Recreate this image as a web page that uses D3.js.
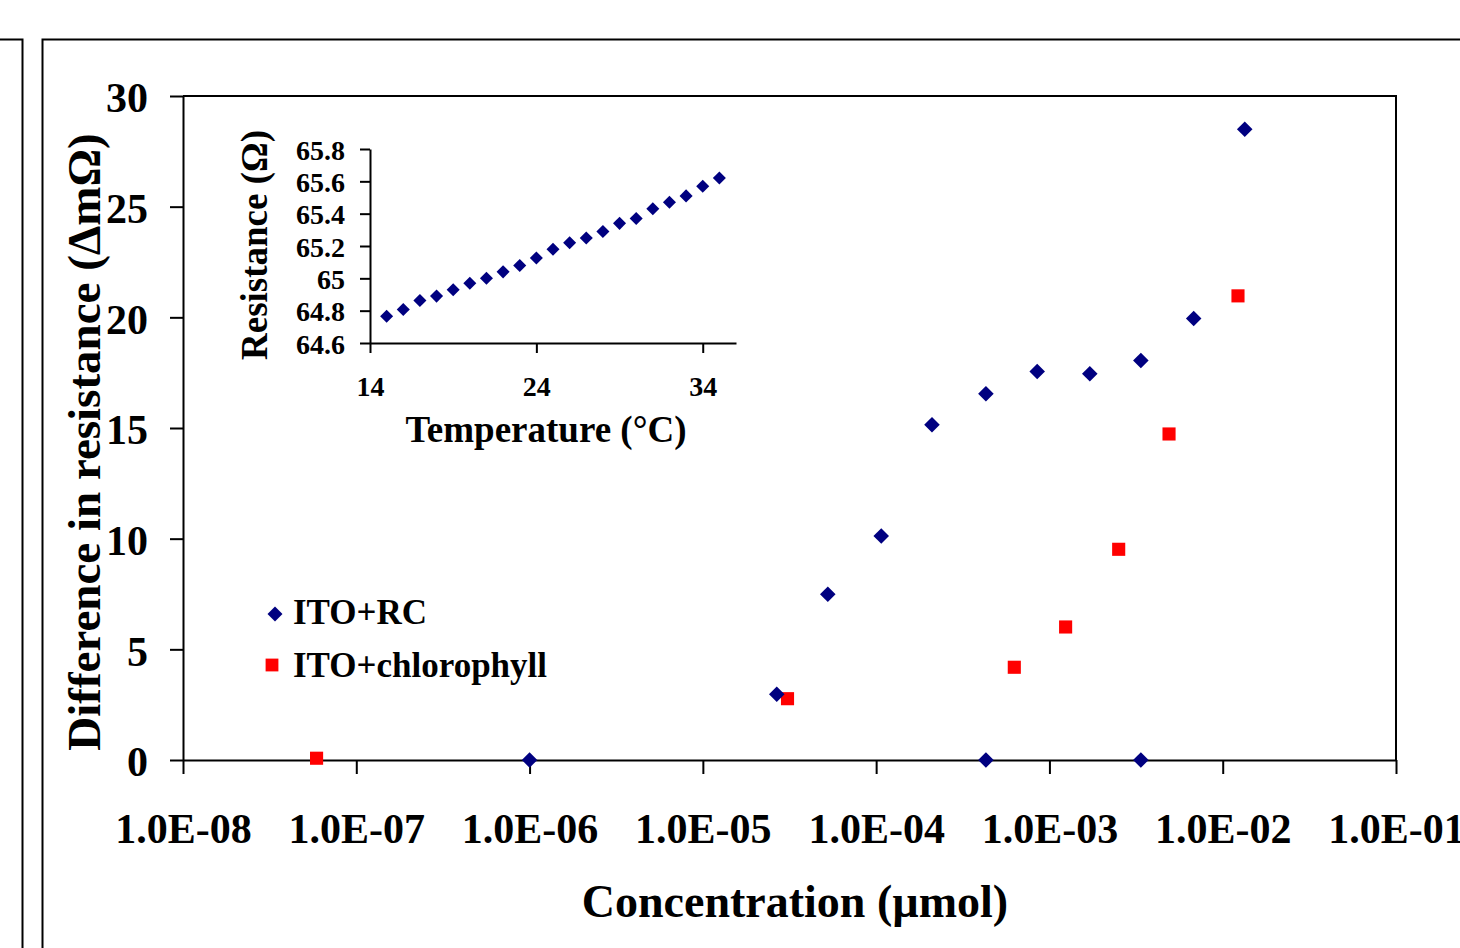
<!DOCTYPE html>
<html>
<head>
<meta charset="utf-8">
<script src="https://cdn.jsdelivr.net/npm/d3@7"></script>
<style>
    body { margin: 0; background: #fff; }
    text { font-family: "Liberation Serif", "Times New Roman", serif; font-weight: bold; fill: #000; }
</style>
</head>
<body>
<div id="chart"></div>
<script>
// main chart: concentration (umol) vs difference in resistance (delta mOhm)
const rcConc = [1.0e-6, 2.67e-5, 5.26e-5, 1.07e-4, 2.1e-4, 4.3e-4, 4.3e-4, 8.5e-4, 1.71e-3, 3.37e-3, 3.37e-3, 6.8e-3, 1.34e-2];
const rcValues = [0, 2.97, 7.49, 10.12, 15.15, 16.55, 0, 17.55, 17.45, 18.05, 0, 19.95, 28.5];

const chlConc = [5.9e-8, 3.08e-5, 6.27e-4, 1.24e-3, 2.51e-3, 4.9e-3, 1.225e-2];
const chlValues = [0.08, 2.77, 4.19, 6.01, 9.52, 14.73, 20.97];

const xTicks = [1e-8, 1e-7, 1e-6, 1e-5, 1e-4, 1e-3, 1e-2, 1e-1];
const xTickLabels = ["1.0E-08", "1.0E-07", "1.0E-06", "1.0E-05", "1.0E-04", "1.0E-03", "1.0E-02", "1.0E-01"];
const yTicks = [0, 5, 10, 15, 20, 25, 30];

// inset: temperature vs resistance
const temps = [15, 16, 17, 18, 19, 20, 21, 22, 23, 24, 25, 26, 27, 28, 29, 30, 31, 32, 33, 34, 35];
const resistance = [64.766, 64.807, 64.863, 64.89, 64.93, 64.97, 65.0, 65.04, 65.08, 65.126, 65.18, 65.22,
    65.25, 65.29, 65.34, 65.37, 65.43, 65.47, 65.51, 65.57, 65.62];
const insetXTicks = [14, 24, 34];
const insetYTicks = [64.6, 64.8, 65, 65.2, 65.4, 65.6, 65.8];

const seriesNames = ["ITO+RC", "ITO+chlorophyll"];

const navy = "#000080";
const red = "#ff0000";

const svg = d3.select("#chart").append("svg")
    .attr("width", 1460)
    .attr("height", 948);

// outer frames of the figure panels
svg.append("path")
    .attr("d", "M0,39.5H22.5V948")
    .attr("fill", "none").attr("stroke", "#000").attr("stroke-width", 2);
svg.append("path")
    .attr("d", "M42.5,948V39.5H1460")
    .attr("fill", "none").attr("stroke", "#000").attr("stroke-width", 2);

// scales
const x = d3.scaleLog().domain([1e-8, 1e-1]).range([183, 1396]);
const y = d3.scaleLinear().domain([0, 30]).range([760, 96]);

// plot box top + right
svg.append("path")
    .attr("d", `M${x(1e-8)},${y(30)}H${x(1e-1)}V${y(0)}`)
    .attr("fill", "none").attr("stroke", "#000").attr("stroke-width", 2);

const xAxis = d3.axisBottom(x)
    .tickValues(xTicks)
    .tickFormat((d, i) => xTickLabels[i])
    .tickSize(14)
    .tickSizeOuter(0)
    .tickPadding(39);

const xAxisGroup = svg.append("g")
    .attr("transform", `translate(0, ${y(0)})`)
    .call(xAxis);

const yAxis = d3.axisLeft(y)
    .tickValues(yTicks)
    .tickSize(13)
    .tickSizeOuter(0)
    .tickPadding(22);

const yAxisGroup = svg.append("g")
    .attr("transform", `translate(${x(1e-8)}, 0)`)
    .call(yAxis);

[xAxisGroup, yAxisGroup].forEach(g => {
    g.attr("font-family", null).attr("font-size", null);
    g.selectAll("path, line").attr("stroke", "#000").attr("stroke-width", 2);
    g.selectAll("text").style("font-size", "42px");
});
yAxisGroup.selectAll("text").attr("dy", "0.38em");

// axis titles
svg.append("text")
    .attr("x", 795).attr("y", 917)
    .attr("text-anchor", "middle")
    .style("font-size", "46px")
    .text("Concentration (µmol)");

svg.append("text")
    .attr("transform", "translate(100, 442) rotate(-90)")
    .attr("text-anchor", "middle")
    .style("font-size", "47px")
    .text("Difference in resistance (ΔmΩ)");

// markers
const diamond = d3.symbol().type(d3.symbolSquare).size(121);
const square = d3.symbol().type(d3.symbolSquare).size(172);

svg.append("g").selectAll("path")
    .data(d3.zip(chlConc, chlValues))
    .enter().append("path")
    .attr("d", square)
    .attr("transform", d => `translate(${x(d[0])}, ${y(d[1])})`)
    .attr("fill", red);

svg.append("g").selectAll("path")
    .data(d3.zip(rcConc, rcValues))
    .enter().append("path")
    .attr("d", diamond)
    .attr("transform", d => `translate(${x(d[0])}, ${y(d[1])}) rotate(45)`)
    .attr("fill", navy);

// legend
const legend = svg.append("g").attr("transform", "translate(274, 614)");
legend.append("path")
    .attr("d", d3.symbol().type(d3.symbolSquare).size(112))
    .attr("transform", "translate(1, 0) rotate(45)")
    .attr("fill", navy);
legend.append("text").attr("x", 19).attr("y", 10).style("font-size", "35px").text(seriesNames[0]);
legend.append("path")
    .attr("d", d3.symbol().type(d3.symbolSquare).size(164))
    .attr("transform", "translate(-2, 51)")
    .attr("fill", red);
legend.append("text").attr("x", 19).attr("y", 63).style("font-size", "35px").text(seriesNames[1]);

// inset chart
const ix = d3.scaleLinear().domain([14, 36]).range([370, 736]);
const iy = d3.scaleLinear().domain([64.6, 65.8]).range([343, 149]);

const ixAxisGroup = svg.append("g")
    .attr("transform", `translate(0, ${iy(64.6)})`)
    .call(d3.axisBottom(ix).tickValues(insetXTicks).tickSize(10).tickSizeOuter(0).tickPadding(23));

const iyAxisGroup = svg.append("g")
    .attr("transform", `translate(${ix(14)}, 0)`)
    .call(d3.axisLeft(iy).tickValues(insetYTicks).tickFormat(d => +d.toFixed(1)).tickSize(10).tickSizeOuter(0).tickPadding(15));

[ixAxisGroup, iyAxisGroup].forEach(g => {
    g.attr("font-family", null).attr("font-size", null);
    g.selectAll("path, line").attr("stroke", "#000").attr("stroke-width", 2);
    g.selectAll("text").style("font-size", "28px");
});
iyAxisGroup.selectAll("text").attr("dy", "0.36em");

svg.append("g").selectAll("path")
    .data(d3.zip(temps, resistance))
    .enter().append("path")
    .attr("d", d3.symbol().type(d3.symbolSquare).size(85))
    .attr("transform", d => `translate(${ix(d[0])}, ${iy(d[1])}) rotate(45)`)
    .attr("fill", navy);

svg.append("text")
    .attr("x", 546).attr("y", 442)
    .attr("text-anchor", "middle")
    .style("font-size", "37px")
    .text("Temperature (°C)");

svg.append("text")
    .attr("transform", "translate(267, 245) rotate(-90)")
    .attr("text-anchor", "middle")
    .style("font-size", "37px")
    .text("Resistance (Ω)");
</script>
</body>
</html>
